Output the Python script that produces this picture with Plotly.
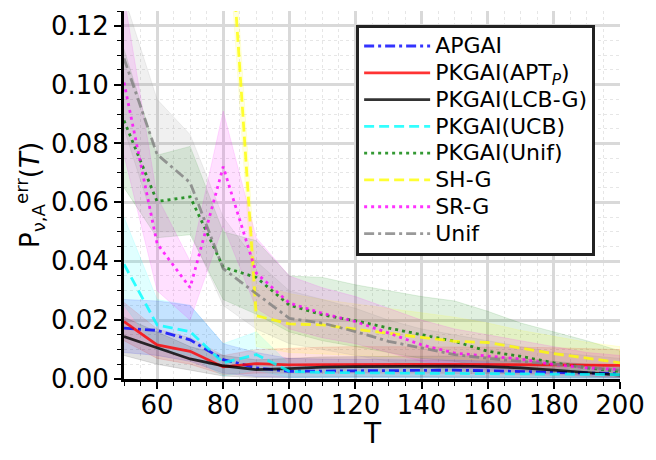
import plotly.graph_objects as go

T = [50, 60, 70, 80, 90, 100, 110, 120, 130, 140, 150, 160, 170, 180, 190, 200]

names = ["APGAI", "PKGAI(APT<sub><i>P</i></sub>)", "PKGAI(LCB-G)", "PKGAI(UCB)",
         "PKGAI(Unif)", "SH-G", "SR-G", "Unif"]

apgai_mean = [0.0173, 0.0165, 0.0133, 0.0066, 0.0038, 0.0026, 0.0027, 0.0028, 0.0029, 0.0030, 0.0030, 0.0028, 0.0026, 0.0023, 0.0020, 0.0018]
apgai_lo   = [0.0090, 0.0080, 0.0060, 0.0020, 0.0008, 0.0005, 0.0005, 0.0005, 0.0005, 0.0005, 0.0005, 0.0005, 0.0005, 0.0004, 0.0003, 0.0003]
apgai_hi   = [0.0270, 0.0265, 0.0250, 0.0120, 0.0090, 0.0070, 0.0068, 0.0067, 0.0066, 0.0066, 0.0065, 0.0062, 0.0060, 0.0056, 0.0050, 0.0045]

apt_mean = [0.0195, 0.0116, 0.0094, 0.0041, 0.0052, 0.0048, 0.0049, 0.0050, 0.0050, 0.0050, 0.0050, 0.0050, 0.0049, 0.0048, 0.0047, 0.0046]
apt_lo   = [0.0130, 0.0070, 0.0050, 0.0015, 0.0020, 0.0020, 0.0020, 0.0020, 0.0020, 0.0020, 0.0020, 0.0020, 0.0018, 0.0017, 0.0016, 0.0015]
apt_hi   = [0.0260, 0.0170, 0.0140, 0.0080, 0.0100, 0.0105, 0.0108, 0.0110, 0.0110, 0.0110, 0.0110, 0.0110, 0.0108, 0.0106, 0.0104, 0.0100]

lcb_mean = [0.0144, 0.0107, 0.0068, 0.0045, 0.0032, 0.0035, 0.0040, 0.0042, 0.0043, 0.0044, 0.0044, 0.0042, 0.0038, 0.0030, 0.0022, 0.0013]
lcb_lo   = [0.0080, 0.0050, 0.0030, 0.0010, 0.0005, 0.0006, 0.0008, 0.0008, 0.0008, 0.0008, 0.0008, 0.0007, 0.0006, 0.0005, 0.0004, 0.0003]
lcb_hi   = [0.0210, 0.0160, 0.0110, 0.0080, 0.0065, 0.0070, 0.0075, 0.0076, 0.0077, 0.0078, 0.0078, 0.0076, 0.0070, 0.0060, 0.0050, 0.0040]

ucb_mean = [0.0390, 0.0184, 0.0161, 0.0055, 0.0083, 0.0026, 0.0022, 0.0021, 0.0020, 0.0020, 0.0020, 0.0019, 0.0018, 0.0017, 0.0016, 0.0015]
ucb_lo   = [0.0250, 0.0100, 0.0080, 0.0010, 0.0030, 0.0005, 0.0004, 0.0004, 0.0004, 0.0004, 0.0004, 0.0004, 0.0003, 0.0003, 0.0003, 0.0003]
ucb_hi   = [0.0550, 0.0270, 0.0250, 0.0120, 0.0160, 0.0050, 0.0045, 0.0042, 0.0040, 0.0040, 0.0040, 0.0038, 0.0036, 0.0034, 0.0032, 0.0030]

punif_mean = [0.0878, 0.0603, 0.0619, 0.0380, 0.0345, 0.0251, 0.0218, 0.0198, 0.0173, 0.0150, 0.0128, 0.0094, 0.0077, 0.0055, 0.0038, 0.0026]
punif_lo   = [0.0650, 0.0480, 0.0490, 0.0270, 0.0220, 0.0160, 0.0130, 0.0110, 0.0090, 0.0070, 0.0060, 0.0040, 0.0030, 0.0020, 0.0010, 0.0005]
punif_hi   = [0.1120, 0.0760, 0.0790, 0.0500, 0.0470, 0.0350, 0.0345, 0.0320, 0.0300, 0.0280, 0.0265, 0.0230, 0.0190, 0.0160, 0.0130, 0.0095]

shg_mean = [0.4000, 0.3500, 0.3000, 0.1900, 0.0215, 0.0187, 0.0184, 0.0169, 0.0156, 0.0142, 0.0128, 0.0124, 0.0105, 0.0086, 0.0071, 0.0055]
shg_lo   = [0.3900, 0.3400, 0.2900, 0.1750, 0.0110, 0.0090, 0.0085, 0.0080, 0.0075, 0.0072, 0.0070, 0.0060, 0.0045, 0.0030, 0.0020, 0.0010]
shg_hi   = [0.4100, 0.3600, 0.3100, 0.2050, 0.0320, 0.0290, 0.0270, 0.0255, 0.0240, 0.0225, 0.0210, 0.0190, 0.0165, 0.0145, 0.0125, 0.0110]

srg_mean = [0.1007, 0.0460, 0.0310, 0.0721, 0.0360, 0.0258, 0.0223, 0.0195, 0.0156, 0.0116, 0.0088, 0.0079, 0.0068, 0.0049, 0.0038, 0.0032]
srg_lo   = [0.0760, 0.0300, 0.0200, 0.0520, 0.0240, 0.0170, 0.0140, 0.0120, 0.0090, 0.0060, 0.0040, 0.0030, 0.0025, 0.0015, 0.0010, 0.0005]
srg_hi   = [0.1300, 0.0620, 0.0400, 0.0910, 0.0480, 0.0350, 0.0310, 0.0280, 0.0240, 0.0200, 0.0170, 0.0150, 0.0130, 0.0110, 0.0090, 0.0080]

unif_mean = [0.1089, 0.0763, 0.0667, 0.0375, 0.0290, 0.0206, 0.0190, 0.0161, 0.0128, 0.0105, 0.0083, 0.0070, 0.0060, 0.0050, 0.0040, 0.0030]
unif_lo   = [0.0850, 0.0500, 0.0500, 0.0250, 0.0170, 0.0120, 0.0100, 0.0080, 0.0060, 0.0040, 0.0030, 0.0020, 0.0015, 0.0010, 0.0007, 0.0005]
unif_hi   = [0.1300, 0.0950, 0.0830, 0.0550, 0.0400, 0.0300, 0.0270, 0.0240, 0.0200, 0.0170, 0.0150, 0.0130, 0.0110, 0.0090, 0.0080, 0.0070]

series = [
    (names[0], apgai_mean, apgai_lo, apgai_hi, (0, 0, 255), "10px,4px,3px,4px"),
    (names[1], apt_mean, apt_lo, apt_hi, (255, 0, 0), "solid"),
    (names[2], lcb_mean, lcb_lo, lcb_hi, (0, 0, 0), "solid"),
    (names[3], ucb_mean, ucb_lo, ucb_hi, (0, 255, 255), "10px,5px"),
    (names[4], punif_mean, punif_lo, punif_hi, (0, 128, 0), "3px,4px"),
    (names[5], shg_mean, shg_lo, shg_hi, (255, 255, 0), "10px,5px"),
    (names[6], srg_mean, srg_lo, srg_hi, (255, 0, 255), "3px,4px"),
    (names[7], unif_mean, unif_lo, unif_hi, (128, 128, 128), "10px,4px,3px,4px"),
]

fig = go.Figure()

for name, m, lo, hi, c, dash in series:
    fig.add_trace(go.Scatter(
        x=T + T[::-1], y=hi + lo[::-1], fill="toself",
        fillcolor="rgba(%d,%d,%d,0.12)" % c,
        line=dict(color="rgba(%d,%d,%d,0.15)" % c, width=0.8),
        mode="lines", showlegend=False, hoverinfo="skip"))

for i, (name, m, lo, hi, c, dash) in enumerate(series):
    fig.add_trace(go.Scatter(
        x=T, y=m, mode="lines",
        name='<span style="font-size:22px">' + name + "</span>",
        legendgroup=str(i),
        line=dict(color="rgba(%d,%d,%d,0.8)" % c, width=2.8, dash=dash)))

font = "DejaVu Sans"
fig.update_layout(
    width=648, height=452,
    margin=dict(l=116, r=36, t=3, b=81),
    paper_bgcolor="white", plot_bgcolor="white",
    font=dict(family=font, color="black"),
    showlegend=True,
    legend=dict(
        x=0.468, y=0.963, xanchor="left", yanchor="top",
        bgcolor="white", bordercolor="#222222", borderwidth=3,
        font=dict(family=font, size=18.3, color="black"),
        tracegroupgap=0, itemwidth=66,
    ),
    xaxis=dict(
        range=[50, 200], tick0=60, dtick=20, automargin=False,
        showline=True, linecolor="black", linewidth=3,
        ticks="outside", ticklen=7, tickwidth=2, tickcolor="black",
        tickfont=dict(size=26), ticklabelstandoff=-6,
        showgrid=True, gridcolor="#d9d9d9", gridwidth=2.5,
        zeroline=False,
        minor=dict(dtick=5, tick0=50, ticks="outside", ticklen=4, tickwidth=1.2,
                   tickcolor="black", showgrid=True, gridcolor="#e6e6e6",
                   griddash="dot", gridwidth=1),
    ),
    yaxis=dict(
        range=[0, 0.125], dtick=0.02, tick0=0, tickformat=".2f", automargin=False,
        showline=True, linecolor="black", linewidth=3,
        ticks="outside", ticklen=7, tickwidth=2, tickcolor="black",
        tickfont=dict(size=26),
        showgrid=True, gridcolor="#d9d9d9", gridwidth=2.5,
        zeroline=False,
        title=dict(text="P<sub>ν,A</sub><sup>err</sup>(<i>T</i>)", font=dict(size=26), standoff=4),
        minor=dict(dtick=0.005, tick0=0, ticks="outside", ticklen=4, tickwidth=1.2,
                   tickcolor="black", showgrid=True, gridcolor="#e6e6e6",
                   griddash="dot", gridwidth=1),
    ),
    annotations=[dict(text="T", xref="paper", yref="paper", x=0.5, y=-0.147,
                      xanchor="center", yanchor="middle", showarrow=False,
                      font=dict(family=font, size=28, color="black"))],
)

fig.write_html("out.html")
